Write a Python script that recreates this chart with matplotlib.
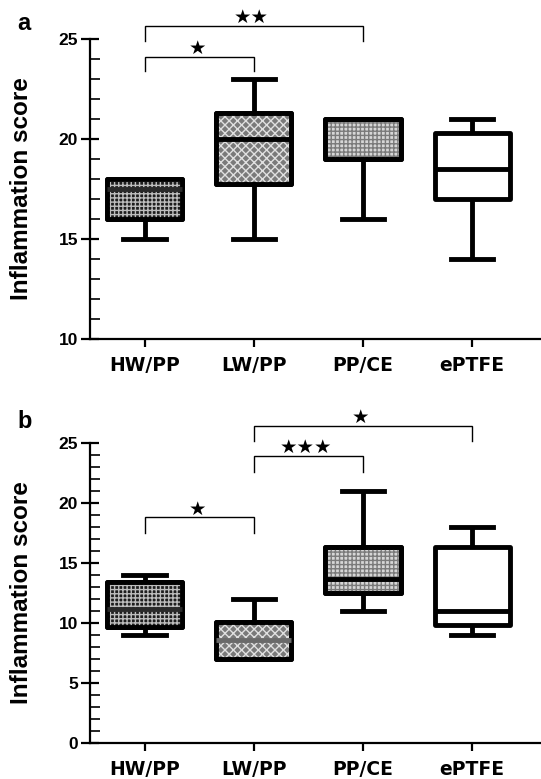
import matplotlib
matplotlib.use("Agg")
import matplotlib.pyplot as plt
from matplotlib.patches import PathPatch
from matplotlib.ticker import MultipleLocator

groups = ["HW/PP", "LW/PP", "PP/CE", "ePTFE"]

# panel a: whisker low, q1, median, q3, whisker high
a_whislo = [15, 15, 16, 14]
a_q1 = [16, 17.75, 19, 17]
a_med = [17.5, 20, 21, 18.5]
a_q3 = [18, 21.3, 21, 20.3]
a_whishi = [18, 23, 21, 21]

# panel b
b_whislo = [9, 7, 11, 9]
b_q1 = [9.7, 7, 12.5, 9.8]
b_med = [11.2, 8.6, 13.7, 11]
b_q3 = [13.4, 10.1, 16.3, 16.3]
b_whishi = [14, 12, 21, 18]

# significance brackets: (left group, right group, bar height, drop to, stars)
a_brackets = [(0, 1, 24.1, 23.4, "★"), (0, 2, 25.65, 24.9, "★★")]
b_brackets = [(0, 1, 18.8, 17.5, "★"), (1, 2, 23.9, 22.6, "★★★"), (1, 3, 26.4, 25.1, "★")]

fills = ["#1e1e1e", "#7a7a7a", "#d6d6d6", "#ffffff"]
hatches = ["++++", "xxxx", "++++", None]
hatch_cols = ["#bdbdbd", "#e0e0e0", "#7a7a7a", None]
med_cols = ["#2a2a2a", "black", "black", "black"]
b_med_cols = ["#2a2a2a", "#6a6a6a", "black", "black"]

fig = plt.figure(figsize=(5.41, 7.79), dpi=100)
W, H = 541, 779


def panel(rect, whislo, q1, med, q3, whishi, brackets, ylim, major, label, ly, mcols):
    ax = fig.add_axes(rect)
    stats = []
    for i in range(len(groups)):
        stats.append(dict(whislo=whislo[i], q1=q1[i], med=med[i], q3=q3[i],
                          whishi=whishi[i], fliers=[], label=groups[i]))
    bp = ax.bxp(stats, positions=range(len(groups)), widths=0.69, capwidths=0.39,
                patch_artist=True, showfliers=False,
                boxprops=dict(linewidth=3.5, edgecolor="black"),
                whiskerprops=dict(linewidth=3.5, color="black", solid_capstyle="butt"),
                capprops=dict(linewidth=3.5, color="black"),
                medianprops=dict(linewidth=3.5, color="black"))
    for i, b in enumerate(bp["boxes"]):
        b.set_facecolor(fills[i])
        b.set_joinstyle("round")
        if hatches[i]:
            hp = PathPatch(b.get_path(), transform=b.get_transform(), facecolor="none",
                           edgecolor=hatch_cols[i], hatch=hatches[i], linewidth=0,
                           zorder=b.get_zorder() + 0.1)
            ax.add_patch(hp)
            bd = PathPatch(b.get_path(), transform=b.get_transform(), facecolor="none",
                           edgecolor="black", linewidth=3.5, joinstyle="round",
                           zorder=b.get_zorder() + 0.2)
            ax.add_patch(bd)
    for i, m in enumerate(bp["medians"]):
        m.set_color(mcols[i])
        m.set_zorder(5)
        m.set_solid_capstyle("butt")

    ax.set_xlim(-0.5, 3.63)
    ax.set_ylim(*ylim)
    ax.yaxis.set_major_locator(MultipleLocator(major))
    ax.yaxis.set_minor_locator(MultipleLocator(1))
    for s in ["top", "right"]:
        ax.spines[s].set_visible(False)
    ax.spines["left"].set_linewidth(1.6)
    ax.spines["bottom"].set_linewidth(1.6)
    ax.tick_params(axis="y", which="major", direction="inout", length=13, width=1.6, pad=2)
    ax.tick_params(axis="y", which="minor", direction="in", length=7, width=1.2)
    ax.tick_params(axis="x", which="major", direction="out", length=6, width=1.6, pad=6)
    ax.set_xticks(range(len(groups)))
    ax.set_xticklabels(groups, fontsize=13.5, fontweight="bold", family="DejaVu Sans")
    for t in ax.get_yticklabels():
        t.set_fontsize(12.5)
        t.set_fontweight("bold")
        t.set_family("Liberation Sans")
    ax.set_ylabel("Inflammation score", fontsize=17.5, fontweight="bold", family="Liberation Sans")
    ax.yaxis.set_label_coords(-0.126, 0.5)

    for (l, r, y, yd, st) in brackets:
        ax.plot([l, l, r, r], [yd, y, y, yd], color="black", lw=1.0, clip_on=False,
                solid_joinstyle="miter")
        ax.text((l + r) / 2 - 0.02, y - (ylim[1] - ylim[0]) * 0.004, st, ha="center", va="bottom",
                fontsize=14, family="DejaVu Sans", clip_on=False)
    fig.text(17 / W, 1 - ly / H, label, fontsize=17, fontweight="bold",
             family="Liberation Sans", va="center", ha="left")
    return ax


panel([90 / W, 1 - 339 / H, (W - 90) / W, 300 / H], a_whislo, a_q1, a_med, a_q3, a_whishi,
      a_brackets, (10, 25), 5, "a", 24, med_cols)
panel([90 / W, 1 - 743.3 / H, (W - 90) / W, 300.6 / H], b_whislo, b_q1, b_med, b_q3, b_whishi,
      b_brackets, (0, 25), 5, "b", 422, b_med_cols)

fig.savefig("out.png", dpi=100)
